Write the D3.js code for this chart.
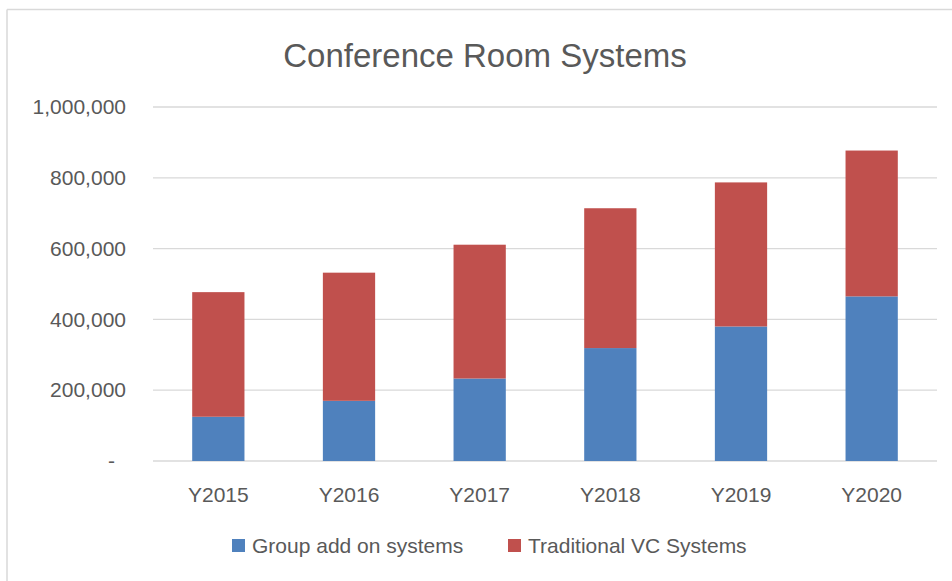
<!DOCTYPE html>
<html>
<head>
<meta charset="utf-8">
<script src="https://cdn.jsdelivr.net/npm/d3@7"></script>
<style>
	body { margin: 0; background: #fff; }
	text { font-family: "Liberation Sans", Arial, sans-serif; fill: #595959; }
</style>
</head>
<body>
<div id="chart"></div>
<script>
var years = ['Y2015', 'Y2016', 'Y2017', 'Y2018', 'Y2019', 'Y2020'];
var groupAddOn = [125000, 170000, 233000, 319000, 380000, 465000];
var traditionalVC = [352000, 362000, 378000, 395000, 407000, 412000];
var seriesNames = ['Group add on systems', 'Traditional VC Systems'];
var seriesColors = ['#4F81BD', '#C0504D'];
var yTicks = [0, 200000, 400000, 600000, 800000, 1000000];

var W = 952, H = 581;
var svg = d3.select('#chart').append('svg').attr('width', W).attr('height', H);

// chart frame (only top and left edges are visible)
svg.append('line').attr('x1', 7).attr('y1', 9.5).attr('x2', W).attr('y2', 9.5)
	.attr('stroke', '#d9d9d9').attr('stroke-width', 1.5);
svg.append('line').attr('x1', 7).attr('y1', 9.5).attr('x2', 7).attr('y2', H)
	.attr('stroke', '#d9d9d9').attr('stroke-width', 1.5);

svg.append('text').attr('x', 485).attr('y', 67).attr('text-anchor', 'middle')
	.style('font-size', '33px').text('Conference Room Systems');

var x = d3.scaleBand().domain(years).range([153, 937]).paddingInner(0.6).paddingOuter(0.3);
var y = d3.scaleLinear().domain([0, 1000000]).range([461, 107]);

// gridlines
svg.append('g').selectAll('line').data(yTicks).enter().append('line')
	.attr('x1', 153).attr('x2', 937)
	.attr('y1', function(d) { return y(d); }).attr('y2', function(d) { return y(d); })
	.attr('stroke', '#d9d9d9').attr('stroke-width', 1.3);

var yAxis = svg.append('g').attr('transform', 'translate(126,0)')
	.call(d3.axisLeft(y).tickValues(yTicks).tickSize(0).tickPadding(0)
		.tickFormat(function(d) { return d === 0 ? '-' : d3.format(',')(d); }));
yAxis.select('.domain').remove();
yAxis.selectAll('text').style('font-size', '21px').attr('fill', '#595959')
	.attr('dx', function(d) { return d === 0 ? -11 : 0; });

var stacked = years.map(function(yr, i) {
	return [{s: 0, y0: 0, y1: groupAddOn[i], year: yr},
		{s: 1, y0: groupAddOn[i], y1: groupAddOn[i] + traditionalVC[i], year: yr}];
});

svg.append('g').selectAll('g').data(stacked).enter().append('g')
	.selectAll('rect').data(function(d) { return d; }).enter().append('rect')
	.attr('x', function(d) { return x(d.year); })
	.attr('width', x.bandwidth())
	.attr('y', function(d) { return y(d.y1); })
	.attr('height', function(d) { return y(d.y0) - y(d.y1); })
	.attr('fill', function(d) { return seriesColors[d.s]; });

var xAxis = svg.append('g').attr('transform', 'translate(0,461)')
	.call(d3.axisBottom(x).tickSize(0).tickPadding(0));
xAxis.select('.domain').remove();
xAxis.selectAll('text').style('font-size', '21px').attr('fill', '#595959').attr('y', 41).attr('dy', 0);

// legend
var legendX = [232, 508];
var legend = svg.append('g').selectAll('g').data(seriesNames).enter().append('g')
	.attr('transform', function(d, i) { return 'translate(' + legendX[i] + ',539)'; });
legend.append('rect').attr('width', 13).attr('height', 13)
	.attr('fill', function(d, i) { return seriesColors[i]; });
legend.append('text').attr('x', 20).attr('y', 13.5).style('font-size', '21px')
	.text(function(d) { return d; });
</script>
</body>
</html>
